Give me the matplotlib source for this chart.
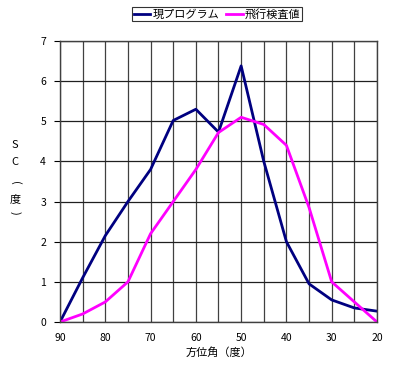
import matplotlib
matplotlib.use("Agg")
import matplotlib.pyplot as plt
import numpy as np

plt.rcParams['font.family'] = ['Noto Sans CJK JP', 'DejaVu Sans']

# ==========================================
# DATA
# ==========================================
angles = [90, 85, 80, 75, 70, 65, 60, 55, 50, 45, 40, 35, 30, 25, 20]
program = [0.0, 1.1, 2.15, 3.0, 3.8, 5.02, 5.3, 4.73, 6.38, 4.0, 2.0, 0.95, 0.55, 0.35, 0.27]
flight = [0.0, 0.2, 0.5, 1.0, 2.2, 3.0, 3.8, 4.72, 5.1, 4.92, 4.4, 2.85, 1.0, 0.5, 0.0]
series_names = ["現プログラム", "飛行検査値"]
x_ticks = [90, 80, 70, 60, 50, 40, 30, 20]
y_ticks = [0, 1, 2, 3, 4, 5, 6, 7]
y_label_chars = ["S", "C", "(", "度", ")"]

# ==========================================
# PLOT
# ==========================================
fig = plt.figure(figsize=(4.12, 3.82), dpi=100)
ax = fig.add_axes([60 / 412, 1 - 322 / 382, 317 / 412, 281 / 382])

ax.plot(angles, program, color="#000080", linewidth=2, label=series_names[0])
ax.plot(angles, flight, color="#ff00ff", linewidth=2, label=series_names[1])

ax.set_xlim(90, 20)
ax.set_ylim(0, 7)
ax.set_xticks(x_ticks)
ax.set_xticks(np.arange(90, 19, -5), minor=True)
ax.set_yticks(y_ticks)
ax.grid(which="both", axis="x", color="#404040", linewidth=0.9)
ax.grid(which="major", axis="y", color="#202020", linewidth=0.9)
ax.tick_params(axis="x", which="both", length=0, labelsize=7.5, pad=8)
ax.tick_params(axis="y", length=4, labelsize=7.5, pad=6)
for s in ax.spines.values():
    s.set_color("#404040")
    s.set_linewidth(1)

ax.set_xlabel("方位角（度）", fontsize=8, labelpad=3)

# vertical y label, one character per line (brackets turned)
label_y = [145, 162, 183, 199, 213]
for ch, yy in zip(y_label_chars, label_y):
    rot = -90 if ch in "()" else 0
    fig.text(15 / 412, 1 - yy / 382, ch, ha="center", va="center",
             fontsize=8, rotation=rot, rotation_mode="anchor")

leg = fig.legend(loc="center", bbox_to_anchor=(217 / 412, 1 - 14 / 382), ncol=2,
                 fontsize=8, frameon=True, fancybox=False, edgecolor="black",
                 handlelength=1.5, handletextpad=0.2, columnspacing=0.6,
                 borderpad=0.15, borderaxespad=0)
leg.get_frame().set_linewidth(0.8)

plt.savefig("out.png", dpi=100)
